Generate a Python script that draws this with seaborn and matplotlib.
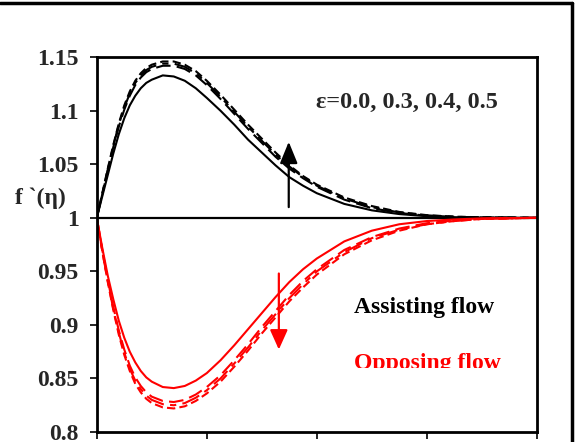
import numpy as np
import pandas as pd
import matplotlib
matplotlib.use("Agg")
import matplotlib.pyplot as plt
import seaborn as sns
from matplotlib.transforms import Bbox

eta = [0, 0.1, 0.2, 0.3, 0.4, 0.5, 0.6, 0.7, 0.8, 0.9, 1.0, 1.2, 1.4, 1.6, 1.8, 2.0,
       2.25, 2.5, 2.75, 3.0, 3.25, 3.5, 3.75, 4.0, 4.5, 5.0, 5.5, 6.0, 6.5, 7.0, 8.0]

assist_00 = [1.000, 1.020, 1.040, 1.060, 1.078, 1.093, 1.105, 1.114, 1.121, 1.126, 1.129, 1.133, 1.132, 1.128, 1.121, 1.112,
             1.100, 1.087, 1.073, 1.061, 1.049, 1.038, 1.030, 1.023, 1.013, 1.007, 1.0035, 1.0015, 1.0006, 1.0002, 1.000]
assist_03 = [1.000, 1.022, 1.044, 1.066, 1.085, 1.101, 1.114, 1.124, 1.131, 1.136, 1.139, 1.142, 1.142, 1.139, 1.133, 1.124,
             1.111, 1.097, 1.083, 1.070, 1.057, 1.046, 1.037, 1.029, 1.017, 1.009, 1.0045, 1.0020, 1.0009, 1.0003, 1.000]
assist_04 = [1.000, 1.022, 1.045, 1.067, 1.087, 1.103, 1.116, 1.126, 1.133, 1.138, 1.141, 1.144, 1.144, 1.141, 1.135, 1.126,
             1.113, 1.099, 1.085, 1.072, 1.059, 1.048, 1.038, 1.030, 1.018, 1.010, 1.0050, 1.0022, 1.0010, 1.0004, 1.000]
assist_05 = [1.000, 1.023, 1.046, 1.068, 1.088, 1.105, 1.118, 1.128, 1.135, 1.140, 1.143, 1.146, 1.146, 1.143, 1.137, 1.128,
             1.115, 1.101, 1.087, 1.074, 1.061, 1.049, 1.039, 1.031, 1.019, 1.011, 1.0055, 1.0025, 1.0011, 1.0005, 1.000]

oppose_00 = [1.000, 0.972, 0.946, 0.924, 0.904, 0.888, 0.875, 0.865, 0.857, 0.851, 0.847, 0.842, 0.841, 0.843, 0.848, 0.855,
             0.867, 0.881, 0.896, 0.911, 0.926, 0.940, 0.952, 0.962, 0.978, 0.988, 0.994, 0.997, 0.9985, 0.9995, 1.000]
oppose_03 = [1.000, 0.970, 0.942, 0.917, 0.895, 0.877, 0.862, 0.851, 0.843, 0.837, 0.833, 0.829, 0.828, 0.830, 0.835, 0.842,
             0.853, 0.867, 0.882, 0.898, 0.913, 0.928, 0.941, 0.952, 0.970, 0.982, 0.990, 0.995, 0.9975, 0.999, 1.000]
oppose_04 = [1.000, 0.969, 0.941, 0.915, 0.893, 0.874, 0.859, 0.848, 0.840, 0.834, 0.830, 0.826, 0.825, 0.827, 0.832, 0.839,
             0.850, 0.864, 0.879, 0.895, 0.910, 0.925, 0.938, 0.950, 0.968, 0.981, 0.989, 0.994, 0.997, 0.999, 1.000]
oppose_05 = [1.000, 0.969, 0.940, 0.914, 0.891, 0.872, 0.857, 0.845, 0.837, 0.831, 0.827, 0.823, 0.822, 0.824, 0.829, 0.836,
             0.847, 0.861, 0.876, 0.892, 0.907, 0.922, 0.935, 0.947, 0.966, 0.979, 0.988, 0.994, 0.997, 0.999, 1.000]

y_ticks = [0.8, 0.85, 0.9, 0.95, 1.0, 1.05, 1.1, 1.15]
y_tick_labels = ["0.8", "0.85", "0.9", "0.95", "1", "1.05", "1.1", "1.15"]
x_ticks = [0, 2, 4, 6, 8]

sns.set_theme(style="white")
plt.rcParams["font.family"] = ["Liberation Serif", "DejaVu Serif"]
plt.rcParams["font.weight"] = "bold"

fig = plt.figure(figsize=(5.76, 4.42), dpi=100)
ax = fig.add_axes([0.168, 0.0226, 0.764, 0.848])

styles = ["-", (0, (7, 3)), (0, (9, 3, 3, 3)), (0, (4, 2))]
series = [
    ("black", [assist_00, assist_03, assist_04, assist_05]),
    ("#ff0000", [oppose_00, oppose_03, oppose_04, oppose_05]),
]
for color, group in series:
    for vals, ls in zip(group, styles):
        df = pd.DataFrame({"eta": eta, "f": vals})
        sns.lineplot(data=df, x="eta", y="f", ax=ax, color=color, lw=1.5,
                     linestyle=ls, estimator=None, sort=False)

ax.axhline(1.0, color="black", lw=1.6, zorder=1)

ax.set_xlim(0, 8)
ax.set_ylim(0.8, 1.15)
ax.set_xticks(x_ticks)
ax.set_xticklabels([])
ax.set_yticks(y_ticks)
ax.set_yticklabels(y_tick_labels, fontsize=17, fontweight="bold")
ax.tick_params(axis="both", direction="out", length=5, width=1.2, color="black",
               left=True, bottom=True, pad=8)
ax.set_xlabel("")
ax.set_ylabel("")
for sp in ax.spines.values():
    sp.set_color("black")
    sp.set_linewidth(2)

fig.text(15 / 576, 1 - 198 / 442, "f `(η)", fontsize=17, fontweight="bold",
         ha="left", va="center")

ax.annotate("", xy=(3.49, 1.071), xytext=(3.49, 1.010),
            arrowprops=dict(arrowstyle="-|>,head_width=0.45,head_length=1.1",
                            color="black", lw=1.6, shrinkA=0, shrinkB=0))
ax.annotate("", xy=(3.31, 0.877), xytext=(3.31, 0.948),
            arrowprops=dict(arrowstyle="-|>,head_width=0.45,head_length=1.0",
                            color="#ff0000", lw=1.6, shrinkA=0, shrinkB=0))

ax.text(407 / 576, 1 - 102 / 442, "ε=0.0, 0.3, 0.4, 0.5", transform=fig.transFigure,
        fontsize=17.5, fontweight="bold", ha="center", va="center")
ax.text(354 / 576, 1 - 308 / 442, "Assisting flow", transform=fig.transFigure,
        fontsize=17, fontweight="bold", ha="left", va="center", color="black")
opp = ax.text(354 / 576, 1 - 364 / 442, "Opposing flow", transform=fig.transFigure,
              fontsize=17, fontweight="bold", ha="left", va="center", color="#ff0000")
opp.set_clip_box(Bbox.from_extents(0, 442 - 368, 576, 442))
opp.set_clip_on(True)

# outer frame of the figure (top and right edges)
fig.add_artist(plt.Line2D([0, 572 / 576], [1 - 2.5 / 442, 1 - 2.5 / 442],
                          transform=fig.transFigure, color="black", lw=2.5))
fig.add_artist(plt.Line2D([572 / 576, 572 / 576], [0, 1 - 2.5 / 442],
                          transform=fig.transFigure, color="black", lw=2.5))

fig.savefig("out.png", dpi=100)
